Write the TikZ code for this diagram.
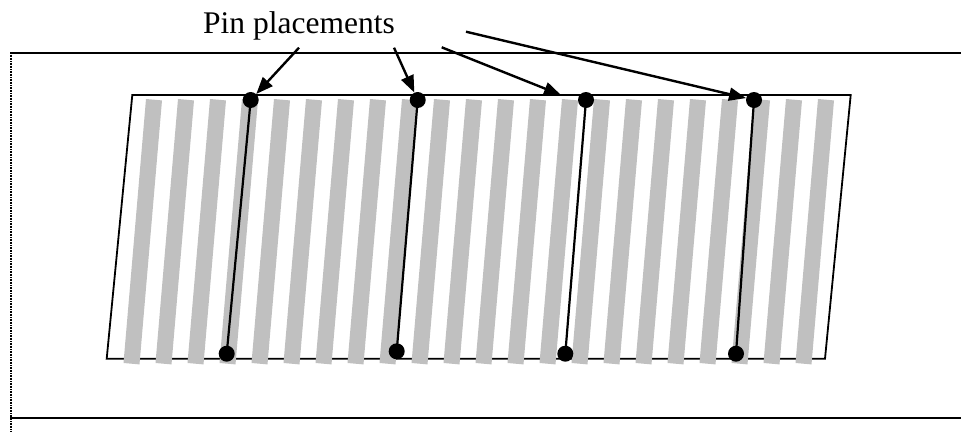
\documentclass[tikz,border=0pt]{standalone}
\usepackage{fontspec}
\setmainfont{Liberation Serif}
\usetikzlibrary{arrows.meta}
\definecolor{stripegray}{RGB}{192,192,192}
\begin{document}
\begin{tikzpicture}[x=1pt,y=-1pt,
  frameline/.style={line width=1.9pt},
  plate/.style={line width=1.8pt},
  stripe/.style={fill=stripegray},
  pin/.style={circle,fill=black,inner sep=0pt,minimum size=16pt},
  pinline/.style={line width=2.2pt},
  pointer/.style={line width=2.4pt,-{Triangle[length=17pt,width=13pt]}}]
\useasboundingbox (0,0) rectangle (961,432);
% frame
\draw[frameline] (10,53) -- (961,53);
\draw[frameline] (10,418) -- (961,418);
\draw[line width=1.5pt,dash pattern=on 1pt off 0.6pt] (11,53) -- (11,432);
% plate
\draw[plate] (132.3,95) -- (850.7,95) -- (825,358.7) -- (106.7,358.7) -- cycle;
% stripes
\foreach \k in {0,...,21}{
  \fill[stripe] ({146+32*\k},99) -- ({162+32*\k},100.4) -- ({139.5+32*\k},364.4) -- ({123.5+32*\k},363) -- cycle;
}
% pins
\node[pin] (p1t) at (250.7,100) {};
\node[pin] (p2t) at (417.7,100) {};
\node[pin] (p3t) at (586,100) {};
\node[pin] (p4t) at (754,100) {};
\node[pin] (p1b) at (226.7,353.7) {};
\node[pin] (p2b) at (396.7,351.3) {};
\node[pin] (p3b) at (565.3,353.7) {};
\node[pin] (p4b) at (736,353.7) {};
\draw[pinline] (p1t.center) -- (p1b.center);
\draw[pinline] (p2t.center) -- (p2b.center);
\draw[pinline] (p3t.center) -- (p3b.center);
\draw[pinline] (p4t.center) -- (p4b.center);
% label and pointers
\node[anchor=base,inner sep=0pt,font=\fontsize{31.5}{36}\selectfont] (lbl) at (299,33.3) {Pin placements};
\coordinate (s1) at (299,47.7);
\coordinate (s2) at (394,47.7);
\coordinate (s3) at (441.7,47.3);
\coordinate (s4) at (466,31.7);
\coordinate (e3) at (561,95);
\draw[pointer] (s1) -- (p1t);
\draw[pointer] (s2) -- (p2t);
\draw[pointer] (s3) -- (e3);
\draw[pointer] (s4) -- (p4t);
\end{tikzpicture}
\end{document}
